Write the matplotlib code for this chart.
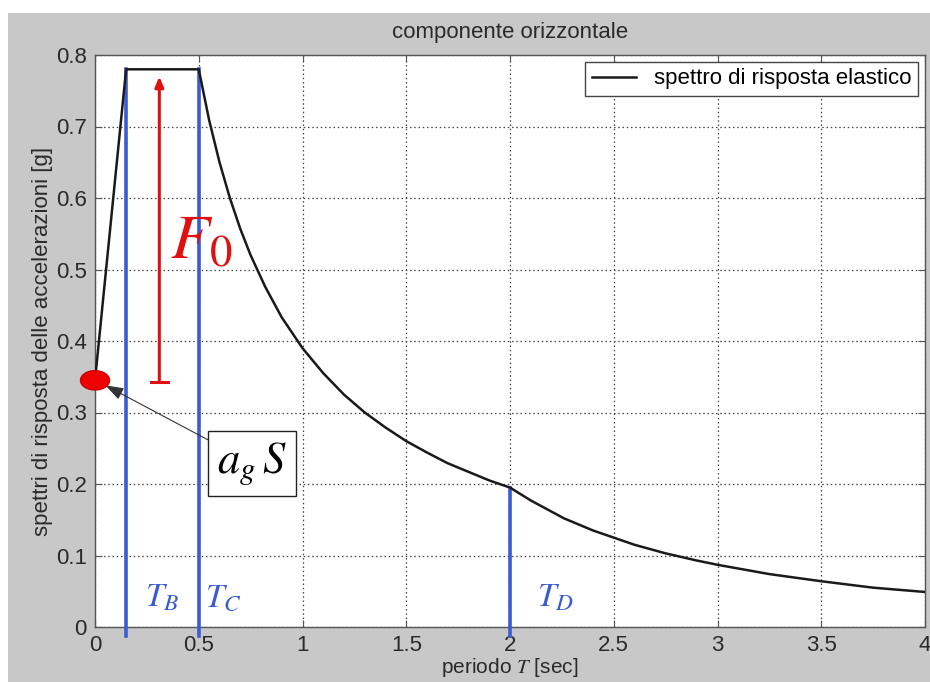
import matplotlib
matplotlib.use("Agg")
import matplotlib.pyplot as plt
from matplotlib.patches import Ellipse, Rectangle

# periods [s] and spectral acceleration [g]
periods = [0.0, 0.15, 0.5, 0.55, 0.6, 0.65, 0.7, 0.75, 0.82, 0.9, 1.0, 1.1,
           1.2, 1.3, 1.4, 1.5, 1.6, 1.7, 1.8, 1.9, 2.0, 2.1, 2.26, 2.4, 2.5,
           2.6, 2.75, 2.9, 3.0, 3.25, 3.5, 3.75, 4.0]
accel = [0.345, 0.78, 0.78, 0.709, 0.65, 0.60, 0.557, 0.52, 0.476, 0.433,
         0.39, 0.355, 0.325, 0.30, 0.279, 0.26, 0.244, 0.229, 0.217, 0.205,
         0.195, 0.177, 0.152, 0.135, 0.125, 0.115, 0.103, 0.093, 0.087,
         0.074, 0.064, 0.055, 0.049]

corner_periods = {"B": 0.15, "C": 0.5, "D": 2.0}
corner_tops = {"B": 0.78, "C": 0.78, "D": 0.195}
ag_s = 0.345
plateau = 0.78

xticks = [0, 0.5, 1, 1.5, 2, 2.5, 3, 3.5, 4]
xticklabels = ["0", "0.5", "1", "1.5", "2", "2.5", "3", "3.5", "4"]
yticks = [0, 0.1, 0.2, 0.3, 0.4, 0.5, 0.6, 0.7, 0.8]
yticklabels = ["0", "0.1", "0.2", "0.3", "0.4", "0.5", "0.6", "0.7", "0.8"]

plt.rcParams["font.family"] = ["Liberation Sans", "DejaVu Sans"]
plt.rcParams["mathtext.fontset"] = "stix"

GRAY = "#c8c8c8"
BLUE = "#3c5ad2"
TXT = "#2a2a2a"

fig = plt.figure(figsize=(9.3, 6.82), dpi=100)
fig.patch.set_facecolor("white")
# MATLAB-like gray window, with a thin white margin top/left
fig.add_artist(Rectangle((8 / 930, 0), 1 - 8 / 930, 1 - 13 / 682,
                         transform=fig.transFigure, facecolor=GRAY,
                         edgecolor="none", zorder=-10))

ax = fig.add_axes([95 / 930, 55 / 682, 830 / 930, 572 / 682])
ax.set_facecolor("white")

ax.plot(periods, accel, color="#1a1a1a", lw=1.8, label="spettro di risposta elastico",
        zorder=4)

for k in ("B", "C", "D"):
    t = corner_periods[k]
    ax.plot([t, t], [-0.012, corner_tops[k]], color=BLUE, lw=2.6, clip_on=False,
            zorder=3)

ax.set_xlim(0, 4)
ax.set_ylim(0, 0.8)
ax.set_xticks(xticks)
ax.set_xticklabels(xticklabels)
ax.set_yticks(yticks)
ax.set_yticklabels(yticklabels)
ax.tick_params(direction="in", top=True, right=True, length=5, labelsize=16,
               labelcolor=TXT, color="#555555", pad=6)
for s in ax.spines.values():
    s.set_color("#555555")
    s.set_linewidth(1.0)
ax.grid(True, color="#444444", linestyle=(0, (1.2, 2.2)), linewidth=0.9)

ax.set_title("componente orizzontale", fontsize=16, color=TXT, pad=12)
ax.set_xlabel(r"periodo $\mathit{T}$ [sec]", fontsize=15, color=TXT, labelpad=0)
ax.set_ylabel("spettri di risposta delle accelerazioni [g]", fontsize=16,
              color=TXT, labelpad=2)

# F0 arrow
fx = 0.31
ax.annotate("", xy=(fx, 0.77), xytext=(fx, ag_s),
            arrowprops=dict(arrowstyle="-|>,head_length=0.6,head_width=0.25",
                            color="#e01010", lw=2.2, shrinkA=0, shrinkB=0))
ax.plot([fx - 0.04, fx + 0.04], [ag_s - 0.002, ag_s - 0.002], color="#e01010", lw=2.2)
ax.text(0.36, 0.54, r"$F_0$", color="#e01010", fontsize=46, va="center", ha="left")

# red dot at a_g S
ax.add_patch(Ellipse((0.0, ag_s), 0.14, 0.027, facecolor="#ee0000",
                     edgecolor="#cc0000", clip_on=False, zorder=6))
ax.annotate(r"$a_g\,S$", xy=(0.05, 0.338), xytext=(0.757, 0.229),
            fontsize=32, ha="center", va="center",
            bbox=dict(boxstyle="square,pad=0.2", facecolor="white",
                      edgecolor="#222222", lw=1.0),
            arrowprops=dict(arrowstyle="-|>,head_length=0.35,head_width=0.12",
                            color="#333333", lw=0.8, shrinkA=0, shrinkB=0))

for k, x in (("B", 0.24), ("C", 0.53), ("D", 2.13)):
    ax.text(x, 0.04, rf"$T_{k}$", color=BLUE, fontsize=24, ha="left", va="center")

ax.legend(loc="upper right", fontsize=16, frameon=True, fancybox=False,
          edgecolor="#444444", framealpha=1, borderaxespad=0.3,
          handlelength=2.0, borderpad=0.3)

fig.savefig("out.png", dpi=100, facecolor=fig.get_facecolor())
